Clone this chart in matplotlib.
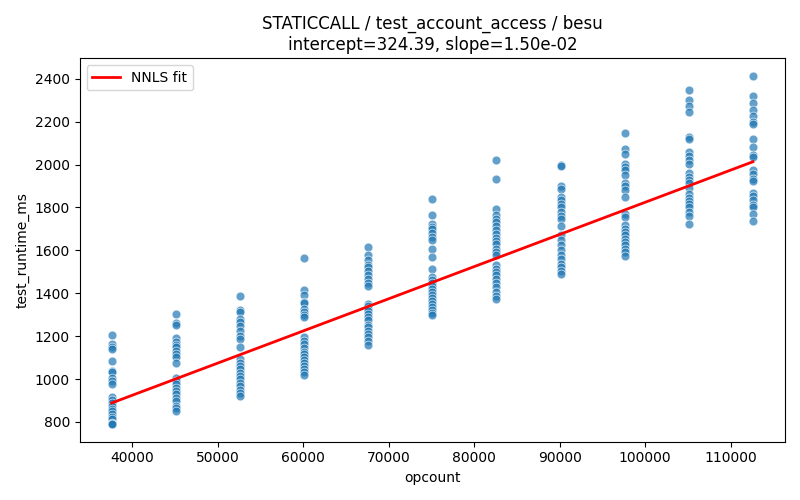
import matplotlib
matplotlib.use("Agg")
import matplotlib.pyplot as plt
import numpy as np

# opcount levels and measured runtimes (ms) per level
opcounts = [37600, 45100, 52600, 60100, 67600, 75100, 82600, 90100, 97600, 105100, 112600]

runtimes = [
    [1207, 1163, 1151, 1140, 1085, 1039, 1032, 1003, 992, 979, 914, 901, 886, 875,
     859, 851, 839, 823, 812, 797, 789, 790],
    [1304, 1262, 1252, 1192, 1171, 1160, 1148, 1132, 1117, 1101, 1073, 1004, 992, 976,
     958, 945, 930, 911, 898, 875, 864, 850],
    [1389, 1324, 1311, 1280, 1265, 1249, 1226, 1199, 1187, 1151, 1093, 1075, 1062, 1049,
     1028, 1015, 1000, 981, 968, 950, 937, 920],
    [1565, 1417, 1393, 1361, 1355, 1327, 1311, 1299, 1288, 1194, 1179, 1163, 1143, 1127,
     1117, 1101, 1090, 1075, 1062, 1046, 1034, 1018],
    [1614, 1577, 1553, 1533, 1522, 1506, 1483, 1467, 1449, 1436, 1350, 1339, 1327, 1315,
     1304, 1288, 1277, 1252, 1241, 1226, 1210, 1194, 1179, 1160],
    [1840, 1764, 1725, 1709, 1698, 1683, 1662, 1647, 1605, 1569, 1514, 1475, 1464, 1449,
     1436, 1421, 1408, 1393, 1377, 1366, 1350, 1335, 1324, 1308, 1300],
    [2021, 1931, 1795, 1764, 1748, 1732, 1712, 1694, 1678, 1659, 1643, 1628, 1608, 1592,
     1577, 1530, 1514, 1498, 1483, 1467, 1447, 1428, 1405, 1389, 1372],
    [1998, 1993, 1899, 1888, 1849, 1834, 1815, 1800, 1779, 1759, 1748, 1712, 1670, 1647,
     1623, 1600, 1577, 1561, 1538, 1522, 1506, 1490],
    [2146, 2071, 2049, 2002, 1987, 1974, 1951, 1915, 1899, 1881, 1849, 1771, 1756, 1717,
     1701, 1686, 1670, 1655, 1639, 1623, 1608, 1592, 1575],
    [2348, 2302, 2274, 2244, 2130, 2118, 2060, 2040, 2021, 2002, 1959, 1943, 1927, 1912,
     1893, 1862, 1846, 1830, 1815, 1800, 1779, 1759, 1725],
    [2414, 2320, 2286, 2255, 2227, 2200, 2189, 2119, 2080, 2044, 2034, 1974, 1955, 1935,
     1924, 1868, 1853, 1834, 1811, 1800, 1768, 1735],
]

intercept = 324.39
slope = 1.50e-02

x = []
y = []
for oc, vals in zip(opcounts, runtimes):
    x += [oc] * len(vals)
    y += vals

fig, ax = plt.subplots(figsize=(8, 5), dpi=100)
ax.scatter(x, y, s=40, color='#1f77b4', alpha=0.7, edgecolors='white', linewidths=0.6)

xs = np.array([min(opcounts), max(opcounts)])
ax.plot(xs, intercept + slope * xs, color='red', linewidth=2, label='NNLS fit')

ax.set_xlabel('opcount')
ax.set_ylabel('test_runtime_ms')
ax.set_title(f'STATICCALL / test_account_access / besu\nintercept={intercept:.2f}, slope={slope:.2e}')
ax.legend(loc='upper left')
fig.tight_layout()
fig.savefig('out.png')
